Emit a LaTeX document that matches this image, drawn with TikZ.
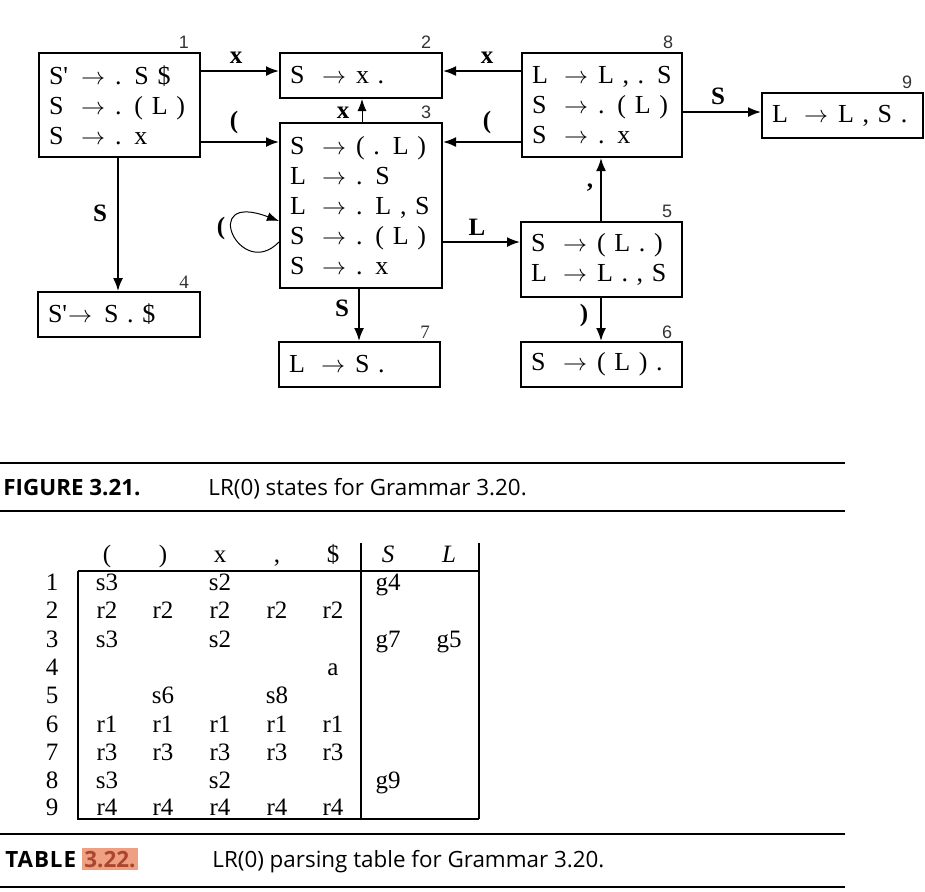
\documentclass[tikz,border=0pt]{standalone}
\usepackage{fontspec}
\setmainfont{Liberation Serif}
\newfontfamily\capfont{Open Sans}
\newfontfamily\numfont{Liberation Sans}
\usetikzlibrary{arrows.meta}
\definecolor{hlbg}{RGB}{240,160,130}
\definecolor{hltx}{RGB}{170,70,45}
\newcommand{\arw}{\ensuremath{\rightarrow}}
\newcommand{\prd}[3][16pt]{\makebox[#1][l]{#2}\arw\hspace{5pt}#3}
\newcommand{\trow}[9]{%
  \node[cell] (r#2) at (52,#1) {#2};
  \node[cell] (r#2a) at (107,#1) {#3};
  \node[cell] (r#2b) at (163,#1) {#4};
  \node[cell] (r#2c) at (220,#1) {#5};
  \node[cell] (r#2d) at (277,#1) {#6};
  \node[cell] (r#2e) at (333,#1) {#7};
  \node[cell] (r#2f) at (388,#1) {#8};
  \node[cell] (r#2g) at (449,#1) {#9};
}
\begin{document}
\begin{tikzpicture}[x=0.5pt,y=-0.5pt,
  st/.style={draw, line width=1pt, rectangle, anchor=north west, inner xsep=5pt, inner ysep=0pt,
             align=left, font=\fontsize{13}{15}\selectfont},
  arr/.style={line width=0.9pt, -{Latex[length=6.5pt,width=5pt]}},
  thinarr/.style={line width=0.5pt, -{Latex[length=6pt,width=4.5pt]}},
  lbl/.style={font=\fontsize{12.5}{14}\selectfont\bfseries, inner sep=0pt},
  num/.style={font=\numfont\fontsize{9}{10}\selectfont, text=black!80, inner sep=0pt},
  snum/.style={font=\fontsize{9.5}{10}\selectfont, text=black!80, inner sep=0pt},
  cell/.style={font=\fontsize{12.5}{14}\selectfont, inner sep=0pt, anchor=base},
  rulex/.style={line width=1.3pt},
  tline/.style={line width=0.6pt},
  capb/.style={font=\capfont\bfseries\fontsize{11.2}{13}\selectfont, inner sep=0pt, anchor=base west},
  capt/.style={font=\capfont\fontsize{11.2}{13}\selectfont, inner sep=0pt, anchor=base west}]
\useasboundingbox (0,0) rectangle (925,891);

% state boxes
\node[st, minimum width=80.5pt, minimum height=52pt, text width=70.5pt] (b1) at (38,52)
  {\prd{S\textquotesingle}{. S \$}\\ \prd{S}{. ( L )}\\ \prd{S}{. x}};
\node[st, minimum width=81pt, minimum height=22.5pt, text width=71pt] (b2) at (279,52)
  {\prd{S}{x .}};
\node[st, minimum width=81pt, minimum height=82.5pt, text width=71pt] (b3) at (279,122)
  {\prd{S}{( . L )}\\ \prd{L}{. S}\\ \prd{L}{. L , S}\\ \prd{S}{. ( L )}\\ \prd{S}{. x}};
\node[st, minimum width=81pt, minimum height=22.5pt, text width=71pt] (b4) at (37,291)
  {\makebox[10pt][l]{S\textquotesingle}\arw\hspace{6pt}S . \$};
\node[st, minimum width=80.5pt, minimum height=22.5pt, text width=70.5pt] (b7) at (278,341)
  {\prd{L}{S .}};
\node[st, minimum width=80pt, minimum height=52pt, text width=70pt] (b8) at (521,52)
  {\prd{L}{L , . S}\\ \prd{S}{. ( L )}\\ \prd{S}{. x}};
\node[st, minimum width=80.5pt, minimum height=22.5pt, text width=70.5pt] (b9) at (761,92)
  {\prd{L}{L , S .}};
\node[st, minimum width=80.5pt, minimum height=37.5pt, text width=70.5pt] (b5) at (520,221)
  {\prd{S}{( L . )}\\ \prd{L}{L . , S}};
\node[st, minimum width=80.5pt, minimum height=22.5pt, text width=70.5pt] (b6) at (520,341)
  {\prd{S}{( L ) .}};

% state numbers
\node[num] (n1) at (184,42) {1};
\node[num] (n2) at (426,42) {2};
\node[num] (n3) at (426,112) {3};
\node[snum] (n4) at (184,282) {4};
\node[num] (n5) at (667,211) {5};
\node[num] (n6) at (667,332) {6};
\node[snum] (n7) at (425,332) {7};
\node[num] (n8) at (668,42) {8};
\node[num] (n9) at (907,82) {9};

% transitions
\draw[arr] (b1.east |- 0,71) -- (b2.west |- 0,71);
\draw[arr] (b1.east |- 0,142) -- (b3.west |- 0,142);
\draw[thinarr] (362,0 |- b3.north) -- (362,0 |- b2.south);
\draw[arr] (b8.west |- 0,71) -- (b2.east |- 0,71);
\draw[arr] (b8.west |- 0,142) -- (b3.east |- 0,142);
\draw[arr] (b8.east |- 0,112) -- (b9.west |- 0,112);
\draw[arr] (118,0 |- b1.south) -- (118,0 |- b4.north);
\draw[arr] (b3.east |- 0,242) -- (b5.west |- 0,242);
\draw[arr] (359,0 |- b3.south) -- (359,0 |- b7.north);
\draw[arr] (601,0 |- b5.north) -- (601,0 |- b8.south);
\draw[arr] (601,0 |- b5.south) -- (601,0 |- b6.north);
\draw[thinarr] (b3.west |- 0,242) .. controls (240,282) and (198,190) .. (b3.west |- 0,221);

% transition labels
\node[lbl] (l12) at (236,58) {x};
\node[lbl] (l13) at (234,122) {(};
\node[lbl] (l32) at (343,113) {x};
\node[lbl] (l82) at (487,58) {x};
\node[lbl] (l83) at (487,122) {(};
\node[lbl] (l89) at (718,96) {S};
\node[lbl] (l14) at (100,213) {S};
\node[lbl] (l33) at (221,228) {(};
\node[lbl] (l35) at (477,227) {L};
\node[lbl] (l37) at (342,308) {S};
\node[lbl] (l58) at (590,188) {,};
\node[lbl] (l56) at (584,315) {)};

% figure caption
\draw[rulex] (0,463) -- (845,463);
\draw[rulex] (0,511) -- (845,511);
\node[capb] (fcap) at (3,495) {FIGURE 3.21.};
\node[capt] (ftxt) at (208,495) {LR(0) states for Grammar 3.20.};

% table
\node[cell] (hA) at (107,562) {(};
\node[cell] (hB) at (163,562) {)};
\node[cell] (hC) at (220,562) {x};
\node[cell] (hD) at (277,562) {,};
\node[cell] (hE) at (333,562) {\$};
\node[cell] (hF) at (388,562) {\textit{S}};
\node[cell] (hG) at (449,562) {\textit{L}};
\trow{590}{1}{s3}{}{s2}{}{}{g4}{}
\trow{618}{2}{r2}{r2}{r2}{r2}{r2}{}{}
\trow{647}{3}{s3}{}{s2}{}{}{g7}{g5}
\trow{675}{4}{}{}{}{}{a}{}{}
\trow{703}{5}{}{s6}{}{s8}{}{}{}
\trow{732}{6}{r1}{r1}{r1}{r1}{r1}{}{}
\trow{760}{7}{r3}{r3}{r3}{r3}{r3}{}{}
\trow{788}{8}{s3}{}{s2}{}{}{g9}{}
\trow{815}{9}{r4}{r4}{r4}{r4}{r4}{}{}
\draw[tline] (78,571) -- (479,571);
\draw[tline] (78,571) -- (78,819) -- (479,819);
\draw[tline] (361,543) -- (361,819);
\draw[tline] (479,543) -- (479,819);

% table caption
\draw[rulex] (0,834) -- (845,834);
\draw[rulex] (0,887) -- (845,887);
\node[capb] (tcap) at (5,867) {\addfontfeature{LetterSpace=4}TABLE};
\node[capb, fill=hlbg, text=hltx, inner xsep=1pt, inner ysep=1.5pt] (tnum) at (82,867) {3.22.};
\node[capt] (ttxt) at (212,867) {LR(0) parsing table for Grammar 3.20.};
\end{tikzpicture}
\end{document}
